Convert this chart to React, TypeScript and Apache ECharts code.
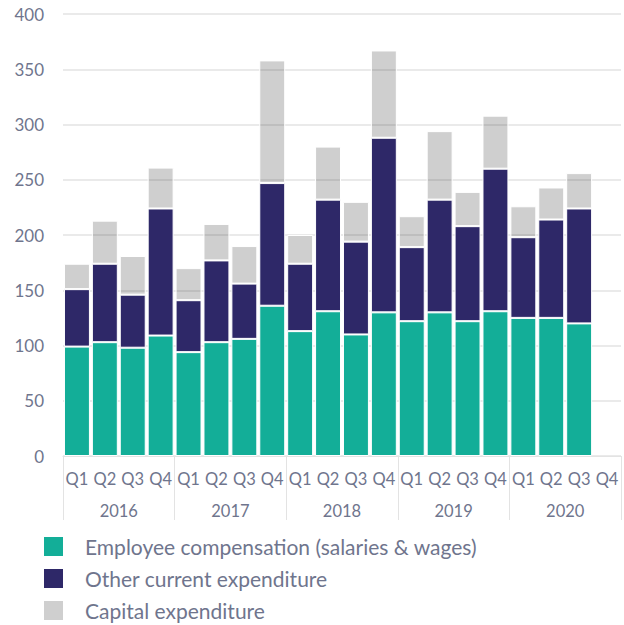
import React, { useEffect, useRef } from "react";
import * as echarts from "echarts";

const quarters = [
  "Q1", "Q2", "Q3", "Q4", "Q1", "Q2", "Q3", "Q4", "Q1", "Q2",
  "Q3", "Q4", "Q1", "Q2", "Q3", "Q4", "Q1", "Q2", "Q3", "Q4",
];
const years = ["2016", "2017", "2018", "2019", "2020"];
const employeeComp = [99, 103, 98, 109, 94, 103, 106, 136, 113, 131, 110, 130, 122, 130, 122, 131, 125, 125, 120, null];
const otherCurrent = [52, 71, 48, 115, 47, 74, 50, 111, 61, 101, 84, 158, 67, 102, 86, 129, 73, 89, 104, null];
const capitalExp = [23, 39, 35, 37, 29, 33, 34, 111, 26, 48, 36, 79, 28, 62, 31, 48, 28, 29, 32, null];
const seriesNames = [
  "Employee compensation (salaries & wages)",
  "Other current expenditure",
  "Capital expenditure",
];
const yTicks = { min: 0, max: 400, interval: 50 };

const FONT = "Lato, 'Noto Sans', sans-serif";
const TEXT = "#6f758d";

export default function App() {
  const ref = useRef<HTMLDivElement>(null);
  useEffect(() => {
    if (!ref.current) return;
    const chart = echarts.init(ref.current, null, { renderer: "svg" });
    const barBase = {
      type: "bar",
      stack: "total",
      xAxisIndex: 0,
      barCategoryGap: "7%",
    };
    const legendTops = [536, 568, 600];
    chart.setOption({
      animation: false,
      textStyle: { fontFamily: FONT },
      grid: { left: 63, right: 3, top: 14, bottom: 169, containLabel: false },
      legend: seriesNames.map((name, i) => ({
        orient: "vertical",
        left: 44,
        top: legendTops[i],
        padding: 0,
        itemWidth: 19,
        itemHeight: 19,
        icon: "rect",
        textStyle: {
          fontSize: 21,
          color: TEXT,
          fontFamily: FONT,
          padding: [0, 0, 0, 17],
        },
        itemStyle: { borderWidth: 0 },
        data: [name],
      })),
      xAxis: [
        {
          type: "category",
          data: quarters,
          position: "bottom",
          axisLine: { show: true, lineStyle: { color: "#e3e3e3", width: 1 } },
          axisTick: {
            show: true,
            interval: (i: number) => i % 4 === 0,
            length: 64,
            lineStyle: { color: "#e3e3e3" },
          },
          axisLabel: { interval: 0, fontSize: 16.5, color: TEXT, margin: 14, fontFamily: FONT },
        },
        {
          type: "category",
          data: years,
          position: "bottom",
          offset: 32,
          axisLine: { show: false },
          axisTick: { show: false },
          axisLabel: { interval: 0, fontSize: 16.5, color: TEXT, margin: 14, fontFamily: FONT },
        },
      ],
      yAxis: {
        type: "value",
        min: yTicks.min,
        max: yTicks.max,
        interval: yTicks.interval,
        axisLine: { show: false },
        axisTick: { show: false },
        axisLabel: { fontSize: 17, color: TEXT, margin: 19, fontFamily: FONT },
        splitLine: { lineStyle: { color: "#e3e3e3", width: 1.5 } },
      },
      series: [
        {
          ...barBase,
          name: seriesNames[0],
          data: employeeComp,
          itemStyle: { color: "#13ae98", borderColor: "#ffffff", borderWidth: 1 },
        },
        {
          ...barBase,
          name: seriesNames[1],
          data: otherCurrent,
          itemStyle: { color: "#2e2868", borderColor: "#ffffff", borderWidth: 1 },
        },
        {
          ...barBase,
          name: seriesNames[2],
          data: capitalExp,
          itemStyle: { color: "rgba(0,0,0,0.19)", borderColor: "#ffffff", borderWidth: 1 },
        },
      ],
    });
    return () => chart.dispose();
  }, []);
  return (
    <div
      ref={ref}
      style={{ position: "fixed", left: 0, top: 0, width: 624, height: 625, background: "#fff" }}
    />
  );
}
